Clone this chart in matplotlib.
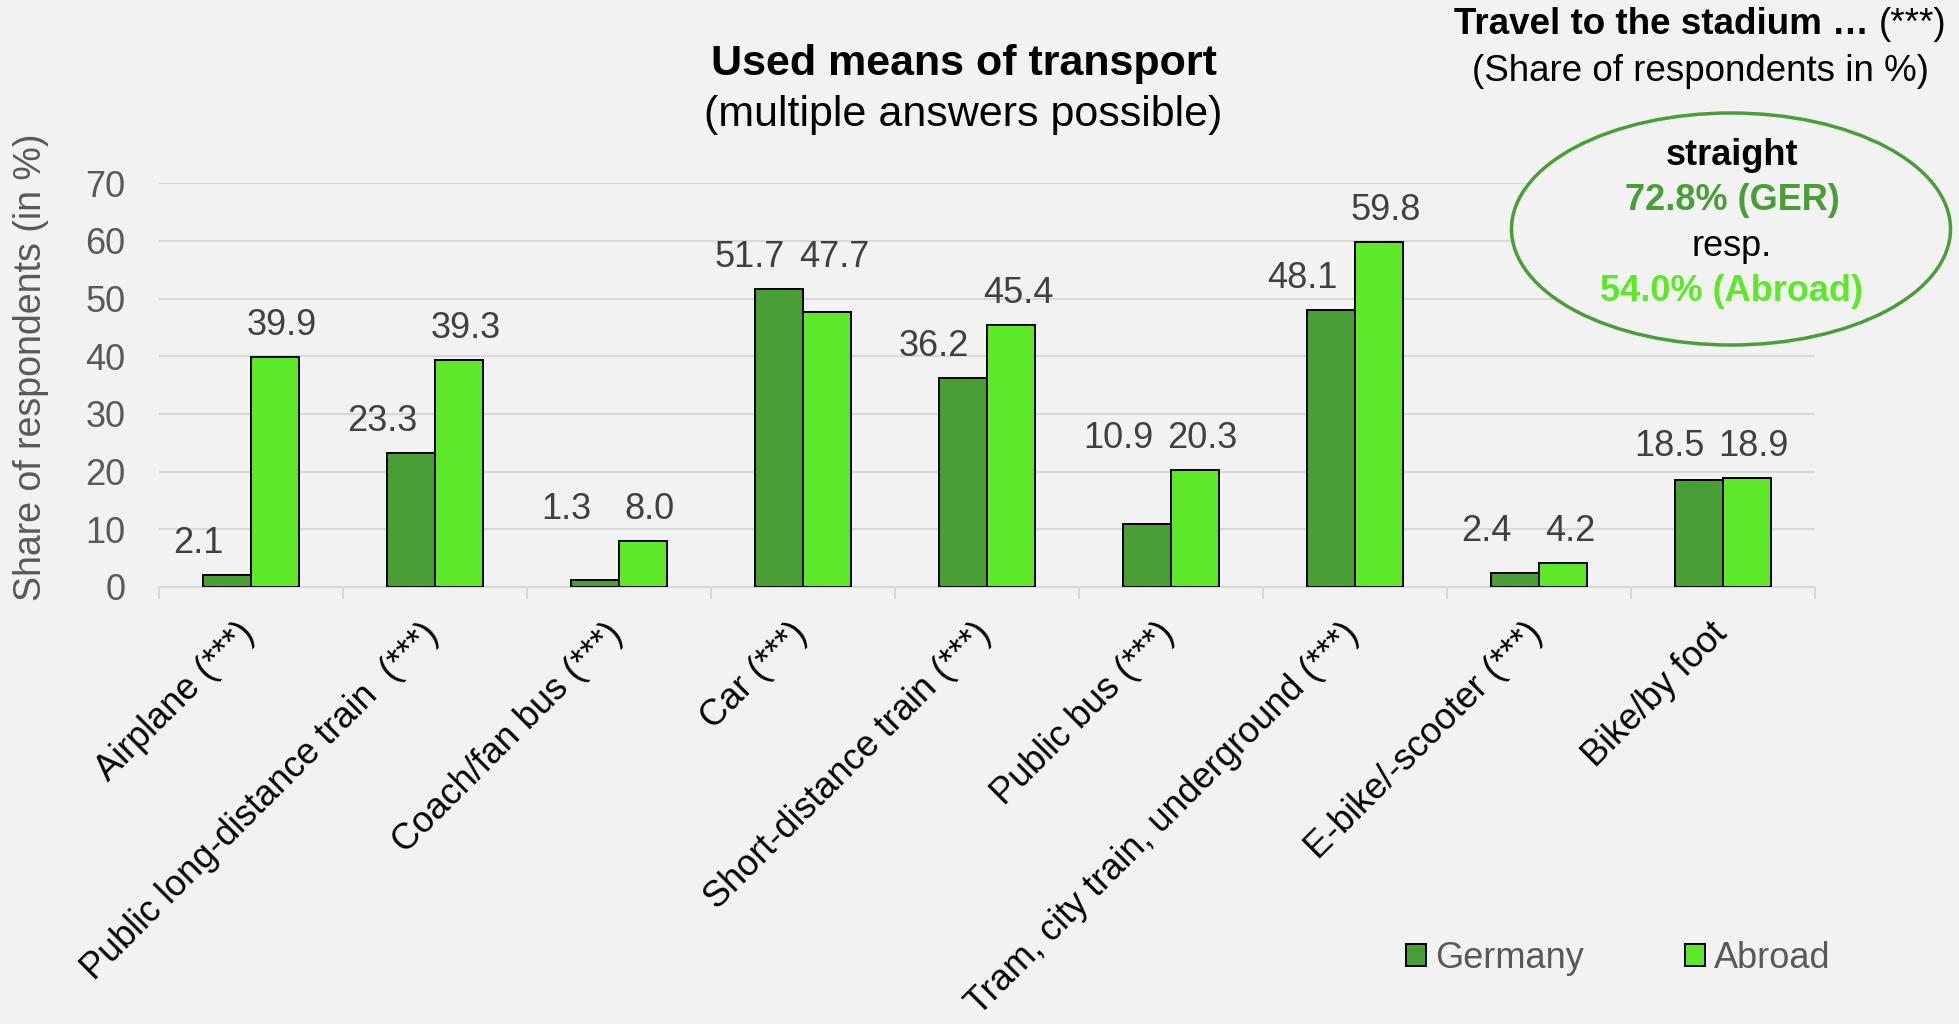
#!/usr/bin/env python3

import matplotlib

matplotlib.use("Agg")
import matplotlib.pyplot as plt
from matplotlib.patches import Ellipse, Patch

# data
categories = [
    "Airplane (***)",
    "Public long-distance train  (***)",
    "Coach/fan bus (***)",
    "Car (***)",
    "Short-distance train (***)",
    "Public bus (***)",
    "Tram, city train, underground (***)",
    "E-bike/-scooter (***)",
    "Bike/by foot",
]
germany = [2.1, 23.3, 1.3, 51.7, 36.2, 10.9, 48.1, 2.4, 18.5]
abroad = [39.9, 39.3, 8.0, 47.7, 45.4, 20.3, 59.8, 4.2, 18.9]
series_names = ["Germany", "Abroad"]
yticks = [0, 10, 20, 30, 40, 50, 60, 70]

# in the original some label pairs were levelled to the taller bar
level_labels = [False, False, True, True, False, True, False, True, True]

DARK_GREEN = "#4a9e37"
LIGHT_GREEN = "#5ee82a"
BG = "#f2f2f2"
GRID = "#d9d9d9"
TICK_GRAY = "#595959"
LABEL_GRAY = "#404040"

W, H = 1959, 1024
plt.rcParams["font.family"] = ["Liberation Sans", "DejaVu Sans"]


def px(x, y):
    return x / W, 1 - y / H


fig = plt.figure(figsize=(W / 100, H / 100), dpi=100, facecolor=BG)
left, top = px(159, 183.3)
right, bottom = px(1815, 587)
ax = fig.add_axes([left, bottom, right - left, top - bottom])
ax.set_facecolor(BG)

n = len(categories)
xs = list(range(n))
bw = 0.26
ax.bar([x - bw / 2 for x in xs], germany, bw, color=DARK_GREEN, edgecolor="black", linewidth=1.4, zorder=3)
ax.bar([x + bw / 2 for x in xs], abroad, bw, color=LIGHT_GREEN, edgecolor="black", linewidth=1.4, zorder=3)

for x, g, a, level in zip(xs, germany, abroad, level_labels):
    gy, ay = (max(g, a), max(g, a)) if level else (g, a)
    ax.annotate(f"{g:.1f}", xy=(x - bw / 2, gy), xytext=(-21, 10), textcoords="offset points",
                ha="center", va="bottom", fontsize=26, color=LABEL_GRAY)
    ax.annotate(f"{a:.1f}", xy=(x + bw / 2, ay), xytext=(5, 10), textcoords="offset points",
                ha="center", va="bottom", fontsize=26, color=LABEL_GRAY)

ax.set_xlim(-0.5, n - 0.5)
ax.set_ylim(0, 70)
ax.set_yticks(yticks)
ax.set_yticklabels([str(t) for t in yticks])
ax.tick_params(axis="y", length=0, pad=24, labelsize=26, labelcolor=TICK_GRAY)
ax.set_xticks([])
ax.set_xticks([x - 0.5 for x in range(n + 1)], minor=True)
ax.tick_params(axis="x", which="minor", length=8.6, width=1.5, color=GRID, direction="out")
ax.grid(True, axis="y", color=GRID, linewidth=1.5, zorder=0)
ax.set_axisbelow(True)
for side in ("top", "right", "left"):
    ax.spines[side].set_visible(False)
ax.spines["bottom"].set_color(GRID)
ax.spines["bottom"].set_linewidth(1.5)

for x, label in zip(xs, categories):
    ax.annotate(label, xy=(x, 0), xycoords=("data", "axes fraction"), xytext=(-10, -21),
                textcoords="offset points", rotation=45, rotation_mode="anchor",
                ha="right", va="top", fontsize=26, color="black")

fig.text(*px(31, 367), "Share of respondents (in %)", rotation=90, ha="center", va="center",
         fontsize=27, color=TICK_GRAY)

fig.text(*px(964, 75), "Used means of transport", ha="center", va="baseline",
         fontsize=31, fontweight="bold")
fig.text(*px(963, 126), "(multiple answers possible)", ha="center", va="baseline", fontsize=31)

# top right note: bold part + normal "(***)" centred together on x=1700
renderer = fig.canvas.get_renderer()
bold_part = fig.text(0, 0, "Travel to the stadium \u2026 ", fontsize=26.5, fontweight="bold")
norm_part = fig.text(0, 0, "(***)", fontsize=26.5)
wb = bold_part.get_window_extent(renderer).width
wn = norm_part.get_window_extent(renderer).width
start = 1700 - (wb + wn) / 2
bold_part.set_position(px(start, 34))
norm_part.set_position(px(start + wb, 34))
fig.text(*px(1700, 81), "(Share of respondents in %)", ha="center", va="baseline", fontsize=26.5)

ell = Ellipse(px(1731, 229), width=439 / W, height=232 / H, transform=fig.transFigure,
              facecolor=BG, edgecolor=DARK_GREEN, linewidth=2.5, zorder=2)
fig.add_artist(ell)
fig.text(*px(1732, 165), "straight", ha="center", va="baseline", fontsize=26, fontweight="bold", zorder=3)
fig.text(*px(1732, 210), "72.8% (GER)", ha="center", va="baseline", fontsize=26, fontweight="bold",
         color=DARK_GREEN, zorder=3)
fig.text(*px(1732, 256), "resp.", ha="center", va="baseline", fontsize=26, zorder=3)
fig.text(*px(1732, 301), "54.0% (Abroad)", ha="center", va="baseline", fontsize=26, fontweight="bold",
         color=LIGHT_GREEN, zorder=3)

handles = [
    Patch(facecolor=DARK_GREEN, edgecolor="black", linewidth=1.4),
    Patch(facecolor=LIGHT_GREEN, edgecolor="black", linewidth=1.4),
]
fig.legend(handles, series_names, loc="center left", bbox_to_anchor=px(1406, 958), ncol=2,
           frameon=False, fontsize=26, labelcolor=TICK_GRAY, handlelength=0.55, handleheight=0.55,
           handletextpad=0.25, columnspacing=2.8, borderpad=0, borderaxespad=0)

fig.savefig("out.png", dpi=100, facecolor=BG)
